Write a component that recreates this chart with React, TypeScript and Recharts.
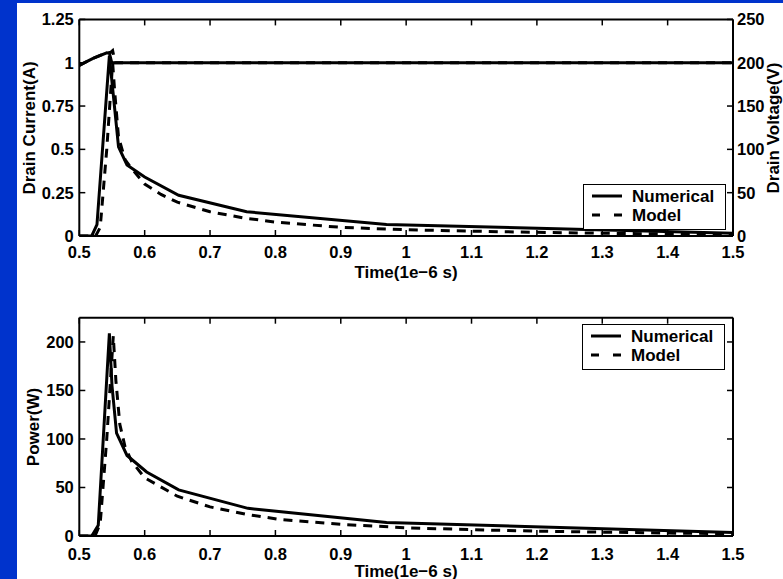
import React from 'react';
import { LineChart, Line, XAxis, YAxis, Legend } from 'recharts';

// time axis (1e-6 s)
const timeTicks = [0.5, 0.6, 0.7, 0.8, 0.9, 1, 1.1, 1.2, 1.3, 1.4, 1.5];
const currentTicks = [0, 0.25, 0.5, 0.75, 1, 1.25];
const voltageTicks = [0, 50, 100, 150, 200, 250];
const powerTicks = [0, 50, 100, 150, 200];
const legendNames = ['Numerical', 'Model'];

// drain current (A)
const curNumT = [0.5, 0.519, 0.527, 0.546, 0.56, 0.573, 0.6, 0.652, 0.756, 0.97, 1.5];
const curNum = [0, 0, 0.065, 1.04, 0.515, 0.41, 0.34, 0.235, 0.14, 0.067, 0.016];
const curModT = [0.5, 0.525, 0.532, 0.542, 0.551, 0.554, 0.56, 0.57, 0.58, 0.6, 0.625, 0.65, 0.7, 0.75, 0.8, 0.9, 1.0, 1.1, 1.2, 1.3, 1.4, 1.5];
const curMod = [0, 0, 0.05, 0.5, 1.0, 0.84, 0.57, 0.44, 0.39, 0.3, 0.24, 0.195, 0.14, 0.105, 0.08, 0.05, 0.036, 0.028, 0.021, 0.016, 0.012, 0.01];

// drain voltage (V)
const voltNumT = [0.5, 0.521, 0.542, 0.546, 0.5496, 1.5];
const voltNum = [197, 205, 211.5, 211, 200, 200];
const voltModT = [0.5, 0.521, 0.542, 0.548, 0.551, 0.555, 1.5];
const voltMod = [197, 205, 211.5, 212, 214, 200, 200];

// power (W)
const powNumT = [0.5, 0.519, 0.529, 0.546, 0.55, 0.557, 0.573, 0.603, 0.652, 0.758, 0.97, 1.5];
const powNum = [0, 0, 11, 209, 155, 106, 83, 66, 47.5, 28.5, 14, 3.5];
const powModT = [0.5, 0.524, 0.532, 0.542, 0.552, 0.556, 0.562, 0.57, 0.58, 0.6, 0.65, 0.7, 0.756, 0.807, 0.9, 1.0, 1.1, 1.2, 1.3, 1.4, 1.5];
const powMod = [0, 0, 13, 100, 206, 160, 115, 92, 77, 60, 41, 30, 22.3, 17, 12, 8.5, 6.5, 5, 4, 3, 2.5];

const zip = (t: number[], v: number[]) => t.map((x, i) => ({ t: x, v: v[i] }));

const FONT = '"Liberation Sans", Arial, Helvetica, sans-serif';
const DASH = '9 7';
const AX = { stroke: '#000', strokeWidth: 2 };
const TL = { stroke: '#000', strokeWidth: 1.5 };
const TICK = { fill: '#000', fontSize: 16.5, fontWeight: 700, fontFamily: FONT };
const blank = () => '';

const LegendBox = () => (
  <div style={{ width: 143, height: 46, boxSizing: 'border-box', border: '1.5px solid #000', background: '#fff' }}>
    <svg width={140} height={43}>
      {legendNames.map((name, i) => (
        <g key={name}>
          <line x1={8} x2={38} y1={11 + i * 19} y2={11 + i * 19} stroke="#000" strokeWidth={3}
            strokeDasharray={i === 1 ? '8 14' : undefined} />
          <text x={48} y={11 + i * 19} dominantBaseline="central" fontFamily={FONT} fontWeight={700} fontSize={17} fill="#000">
            {name}
          </text>
        </g>
      ))}
    </svg>
  </div>
);

export default function App() {
  return (
    <div style={{ position: 'fixed', left: 0, top: 0, width: 783, height: 579, background: '#0033cc', overflow: 'hidden' }}>
      <div style={{ position: 'absolute', left: 17, top: 3, width: 766, height: 576, background: '#fff' }} />

      {/* top: drain current / drain voltage */}
      <div style={{ position: 'absolute', left: 0, top: 0 }}>
        <LineChart width={783} height={290} margin={{ top: 18.4, right: 49, bottom: 53, left: 78.3 }}>
          <XAxis xAxisId="b" type="number" dataKey="t" domain={[0.5, 1.5]} ticks={timeTicks} interval={0} allowDataOverflow
            height={1} tickSize={-6} tickMargin={16.5} axisLine={AX} tickLine={TL} tick={TICK} />
          <XAxis xAxisId="top" orientation="top" type="number" dataKey="t" domain={[0.5, 1.5]} ticks={timeTicks} interval={0} allowDataOverflow
            height={1} tickSize={-6} axisLine={AX} tickLine={TL} tick={TICK} tickFormatter={blank} />
          <YAxis yAxisId="i" type="number" domain={[0, 1.25]} ticks={currentTicks} interval={0} allowDataOverflow
            width={1} tickSize={-6} tickMargin={11.5} axisLine={AX} tickLine={TL} tick={TICK} />
          <YAxis yAxisId="v" orientation="right" type="number" domain={[0, 250]} ticks={voltageTicks} interval={0} allowDataOverflow
            width={1} tickSize={-6} tickMargin={10} axisLine={AX} tickLine={TL} tick={TICK} />
          <Line xAxisId="b" yAxisId="i" data={zip(curNumT, curNum)} dataKey="v" type="linear" stroke="#000" strokeWidth={3} dot={false} isAnimationActive={false} />
          <Line xAxisId="b" yAxisId="v" data={zip(voltNumT, voltNum)} dataKey="v" type="linear" stroke="#000" strokeWidth={3} dot={false} isAnimationActive={false} />
          <Line xAxisId="b" yAxisId="i" data={zip(curModT, curMod)} dataKey="v" type="linear" stroke="#000" strokeWidth={3} strokeDasharray={DASH} dot={false} isAnimationActive={false} />
          <Line xAxisId="b" yAxisId="v" data={zip(voltModT, voltMod)} dataKey="v" type="linear" stroke="#000" strokeWidth={3} strokeDasharray={DASH} dot={false} isAnimationActive={false} />
          <Legend layout="vertical" align="center" verticalAlign="middle" wrapperStyle={{ left: 583, top: 184, width: 143, height: 46 }} content={() => <LegendBox />} />
        </LineChart>
      </div>

      {/* bottom: power */}
      <div style={{ position: 'absolute', left: 0, top: 290 }}>
        <LineChart width={783} height={289} margin={{ top: 26.7, right: 49, bottom: 42, left: 78.3 }}>
          <XAxis xAxisId="b" type="number" dataKey="t" domain={[0.5, 1.5]} ticks={timeTicks} interval={0} allowDataOverflow
            height={1} tickSize={-6} tickMargin={18} axisLine={AX} tickLine={TL} tick={TICK} />
          <XAxis xAxisId="top" orientation="top" type="number" dataKey="t" domain={[0.5, 1.5]} ticks={timeTicks} interval={0} allowDataOverflow
            height={1} tickSize={-6} axisLine={AX} tickLine={TL} tick={TICK} tickFormatter={blank} />
          <YAxis yAxisId="p" type="number" domain={[0, 225]} ticks={powerTicks} interval={0} allowDataOverflow
            width={1} tickSize={-6} tickMargin={11.5} axisLine={AX} tickLine={TL} tick={TICK} />
          <YAxis yAxisId="r" orientation="right" type="number" domain={[0, 225]} ticks={powerTicks} interval={0} allowDataOverflow
            width={1} tickSize={-6} axisLine={AX} tickLine={TL} tick={TICK} tickFormatter={blank} />
          <Line xAxisId="b" yAxisId="p" data={zip(powNumT, powNum)} dataKey="v" type="linear" stroke="#000" strokeWidth={3} dot={false} isAnimationActive={false} />
          <Line xAxisId="b" yAxisId="p" data={zip(powModT, powMod)} dataKey="v" type="linear" stroke="#000" strokeWidth={3} strokeDasharray={DASH} dot={false} isAnimationActive={false} />
          <Legend layout="vertical" align="center" verticalAlign="middle" wrapperStyle={{ left: 582, top: 34, width: 143, height: 46 }} content={() => <LegendBox />} />
        </LineChart>
      </div>

      {/* axis titles */}
      <svg width={783} height={579} style={{ position: 'absolute', left: 0, top: 0, pointerEvents: 'none' }}>
        <g fontFamily={FONT} fontWeight={700} fontSize={17} fill="#000" textAnchor="middle">
          <text x={29} y={128} dominantBaseline="central" transform="rotate(-90 29 128)">Drain Current(A)</text>
          <text x={773} y={128} dominantBaseline="central" transform="rotate(-90 773 128)">Drain Voltage(V)</text>
          <text x={406} y={272} dominantBaseline="central">Time(1e−6 s)</text>
          <text x={33} y={427} dominantBaseline="central" transform="rotate(-90 33 427)">Power(W)</text>
          <text x={406} y={571} dominantBaseline="central">Time(1e−6 s)</text>
        </g>
      </svg>
    </div>
  );
}
